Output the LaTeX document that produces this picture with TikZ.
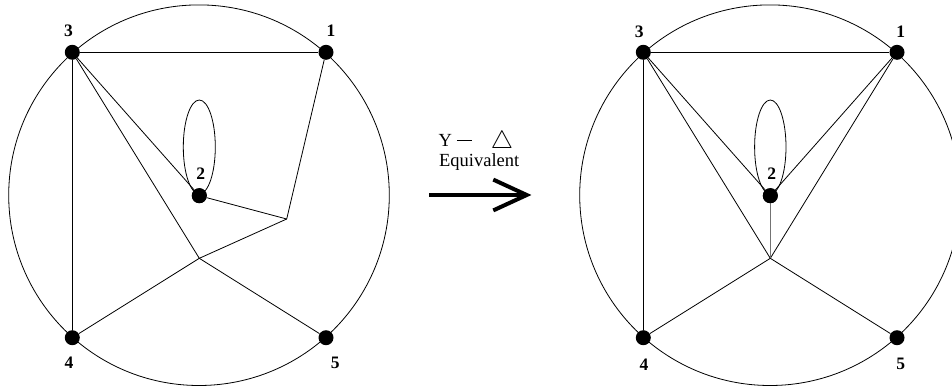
\documentclass[tikz,border=0pt]{standalone}
\usepackage{fontspec}
\setmainfont{Liberation Serif}
\usetikzlibrary{calc}
\begin{document}
\begin{tikzpicture}[x=1pt,y=-1pt,
  vtx/.style={circle,fill=black,inner sep=0pt,minimum size=15pt},
  edge/.style={line width=0.8pt},
  grayedge/.style={line width=1.5pt,draw=black!55},
  ring/.style={line width=0.8pt},
  lbl/.style={font=\fontsize{17.5}{19}\selectfont\bfseries,inner sep=0pt},
  txt/.style={font=\fontsize{18.5}{20}\selectfont,inner sep=0pt},
  bigarrow/.style={line width=4pt,line join=miter}]
\path[use as bounding box,clip] (0,0) rectangle (952,389);

% ---------- left graph ----------
\draw[ring] (199,195.2) circle[radius=190.3pt];
\node[vtx] (n3) at (72.3,52.3) {};
\node[vtx] (n1) at (326,52.3) {};
\node[vtx] (n2) at (199.3,195.7) {};
\node[vtx] (n4) at (72.3,337.7) {};
\node[vtx] (n5) at (326,337.7) {};
\coordinate (A) at (286.7,219);
\coordinate (B) at (199.3,258.3);
\draw[edge] ($(n2)+(0,-48.7)$) ellipse[x radius=16pt,y radius=47pt];
\draw[edge] (n3) -- (n1);
\draw[edge] (n3) -- (n4);
\draw[edge] (n3) -- (n2);
\draw[edge] (n3) -- (B);
\draw[edge] (B) -- (n5);
\draw[edge] (n4) -- (B);
\draw[edge] (B) -- (A);
\draw[edge] (A) -- (n2);
\draw[edge] (A) -- (n1);
\node[vtx] at (n2) {};
\node[lbl] (l3) at (68.5,31) {3};
\node[lbl] (l1) at (331,31) {1};
\node[lbl] (l2) at (200.8,173.7) {2};
\node[lbl] (l4) at (69,363) {4};
\node[lbl] (l5) at (335.3,363.3) {5};

% ---------- middle ----------
\node[txt,anchor=base west] (ydelta) at (438.3,146.7) {Y\hspace{5pt}\rule[5.4pt]{15pt}{1.2pt}\hspace{19pt}\raisebox{-1.5pt}{\scalebox{1.45}{$\triangle$}}};
\node[txt,anchor=base] (equiv) at (479.2,166) {Equivalent};
\coordinate (arS) at (429.3,195);
\coordinate (arT) at (526.7,195);
\draw[bigarrow] (arS) -- (arT);
\draw[bigarrow] ($(arT)+(-33.4,-15.4)$) -- (arT) -- ($(arT)+(-33.4,15.4)$);

% ---------- right graph ----------
\draw[ring] (770,195.2) circle[radius=190.3pt];
\node[vtx] (m3) at (643.3,52.3) {};
\node[vtx] (m1) at (897,52.3) {};
\node[vtx] (m2) at (770.3,195.7) {};
\node[vtx] (m4) at (643.3,337.7) {};
\node[vtx] (m5) at (897,337.7) {};
\coordinate (mB) at (770.3,258.3);
\draw[edge] ($(m2)+(0,-48.7)$) ellipse[x radius=15.7pt,y radius=47pt];
\draw[edge] (m3) -- (m1);
\draw[edge] (m3) -- (m4);
\draw[edge] (m3) -- (m2);
\draw[edge] (m3) -- (mB);
\draw[edge] (m1) -- (m2);
\draw[edge] (m1) -- (mB);
\draw[grayedge] (m2) -- (mB);
\draw[edge] (mB) -- (m4);
\draw[edge] (mB) -- (m5);
\node[vtx] at (m2) {};
\node[lbl] (k3) at (639.3,31.7) {3};
\node[lbl] (k1) at (900.7,31.7) {1};
\node[lbl] (k2) at (771.7,173.3) {2};
\node[lbl] (k4) at (644,364.3) {4};
\node[lbl] (k5) at (900.7,364.3) {5};
\end{tikzpicture}
\end{document}
